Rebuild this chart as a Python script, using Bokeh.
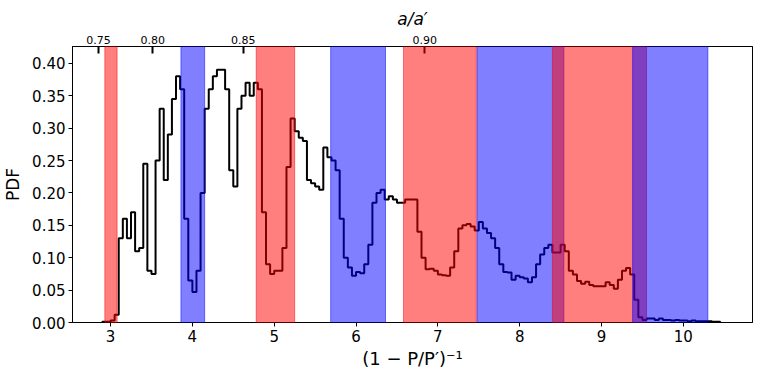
import numpy as np
from bokeh.plotting import figure
from bokeh.models import BoxAnnotation, LinearAxis, FixedTicker, NumeralTickFormatter, Range1d
from bokeh.embed import file_html
from bokeh.resources import INLINE

# histogram (step) of the PDF
bin_start = 2.90
bin_width = 0.05
pdf_values = [
    0.001, 0.001, 0.003, 0.012, 0.13, 0.16, 0.13, 0.17, 0.11, 0.115,
    0.245, 0.08, 0.075, 0.25, 0.33, 0.22, 0.29, 0.345, 0.38, 0.36,
    0.16, 0.065, 0.047, 0.08, 0.20, 0.33, 0.36, 0.38, 0.39, 0.39,
    0.36, 0.235, 0.21, 0.33, 0.35, 0.37, 0.35, 0.37, 0.36, 0.17,
    0.09, 0.075, 0.08, 0.08, 0.115, 0.24, 0.315, 0.295, 0.285, 0.28,
    0.22, 0.215, 0.21, 0.205, 0.27, 0.255, 0.25, 0.235, 0.16, 0.10,
    0.085, 0.072, 0.078, 0.076, 0.09, 0.12, 0.185, 0.20, 0.205, 0.19,
    0.195, 0.19, 0.185, 0.185, 0.19, 0.19, 0.19, 0.14, 0.10, 0.082,
    0.083, 0.08, 0.074, 0.073, 0.072, 0.085, 0.11, 0.145, 0.15, 0.152,
    0.148, 0.142, 0.155, 0.145, 0.138, 0.13, 0.115, 0.09, 0.078, 0.077,
    0.066, 0.072, 0.07, 0.068, 0.062, 0.07, 0.09, 0.105, 0.115, 0.12,
    0.108, 0.108, 0.12, 0.11, 0.08, 0.074, 0.064, 0.06, 0.063, 0.058,
    0.056, 0.056, 0.056, 0.062, 0.058, 0.052, 0.066, 0.08, 0.084, 0.074,
    0.035, 0.008, 0.004, 0.006, 0.006, 0.004, 0.006, 0.004, 0.004, 0.003,
    0.004, 0.003, 0.003, 0.002, 0.003, 0.002, 0.002, 0.002, 0.002, 0.001,
    0.001,
]

# shaded regions (drawn in this order)
span_left = [2.93, 3.86, 4.78, 5.69, 6.58, 7.48, 8.40, 9.38]
span_right = [3.08, 4.15, 5.25, 6.36, 7.47, 8.54, 9.55, 10.30]
span_color = ["red", "blue", "red", "blue", "red", "blue", "red", "blue"]

# top axis: a/a'
top_ticks = [0.75, 0.80, 0.85, 0.90]
top_tick_labels = ["0.75", "0.80", "0.85", "0.90"]

y_ticks = [0.00, 0.05, 0.10, 0.15, 0.20, 0.25, 0.30, 0.35, 0.40]
x_ticks = [3, 4, 5, 6, 7, 8, 9, 10]

FONT = "DejaVu Sans"

n = len(pdf_values)
edges = [round(bin_start + bin_width * i, 4) for i in range(n + 1)]
xs = [edges[0]] + edges
ys = [0.0] + list(pdf_values) + [0.0]

p = figure(
    frame_width=680, frame_height=276,
    x_range=Range1d(2.535, 10.845), y_range=Range1d(0, 0.426),
    output_backend="svg", toolbar_location=None,
    min_border_left=72, min_border_top=46, min_border_right=4, min_border_bottom=42,
)
p.background_fill_color = "white"
p.border_fill_color = "white"
p.outline_line_color = "black"
p.outline_line_width = 1
p.outline_line_alpha = 1
p.xgrid.visible = False
p.ygrid.visible = False

p.step(xs, ys, mode="after", line_color="black", line_width=2)

for l, r, c in zip(span_left, span_right, span_color):
    p.add_layout(BoxAnnotation(left=l, right=r, fill_color=c, fill_alpha=0.5,
                               line_color=c, line_alpha=0.5, line_width=1))


def style(ax, label_size, tick_size):
    ax.minor_tick_line_color = None
    ax.major_tick_line_color = "black"
    ax.axis_line_color = "black"
    ax.axis_label_text_font = FONT
    ax.axis_label_text_font_size = label_size
    ax.axis_label_text_color = "black"
    ax.major_label_text_font = FONT
    ax.major_label_text_font_size = tick_size
    ax.major_label_text_color = "black"


# bottom axis
xa = p.xaxis[0]
xa.ticker = FixedTicker(ticks=x_ticks)
style(xa, "18px", "15px")
xa.major_tick_out = 4
xa.major_tick_in = 0
xa.axis_label = "(1 − P/P′)⁻¹"
xa.axis_label_text_font_style = "normal"
xa.axis_label_standoff = 3
xa.major_label_standoff = 3

# left axis
ya = p.yaxis[0]
ya.ticker = FixedTicker(ticks=y_ticks)
ya.formatter = NumeralTickFormatter(format="0.00")
style(ya, "17px", "15px")
ya.major_tick_out = 4
ya.major_tick_in = 0
ya.axis_label = "PDF"
ya.axis_label_text_font_style = "normal"
ya.axis_label_standoff = 6
ya.major_label_standoff = 3

# top axis: a/a' = (P/P')^(2/3)  ->  x = 1 / (1 - (a/a')^(3/2))
top_x = [1.0 / (1.0 - a ** 1.5) for a in top_ticks]
top = LinearAxis(
    ticker=FixedTicker(ticks=top_x),
    major_label_overrides={tx: lab for tx, lab in zip(top_x, top_tick_labels)},
    axis_label="a/a′",
)
style(top, "17px", "11px")
top.major_tick_in = 7
top.major_tick_out = 0
top.major_tick_line_width = 2
top.major_label_standoff = 3
top.axis_label_text_font_style = "italic"
top.axis_label_standoff = 4
p.add_layout(top, "above")

open("out.html", "w").write(file_html(p, INLINE))
